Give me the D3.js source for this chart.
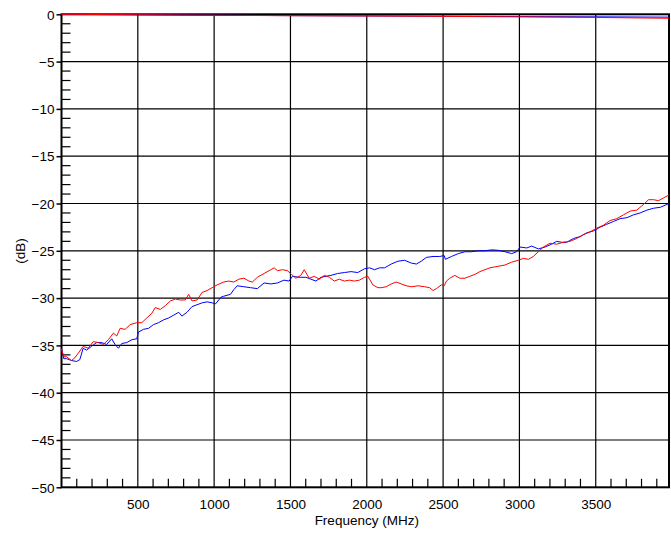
<!DOCTYPE html>
<html lang="en">
<head>
<meta charset="UTF-8">
<script src="https://d3js.org/d3.v7.min.js"></script>
<style>
  body { margin: 0; background: #fff; }
  text { font-family: "Liberation Sans", Arial, sans-serif; font-size: 13.5px; fill: #000; }
</style>
</head>
<body>
<div id="chart"></div>
<script>
// Data (frequency in MHz, level in dB)
const redFreq = [0, 15, 33, 66, 88, 120, 142, 175, 208, 241, 274, 307, 340, 362, 384, 417, 450, 493, 526, 559,
  592, 614, 647, 680, 713, 746, 778, 811, 833, 855, 888, 921, 954, 987, 1020, 1063, 1096, 1129, 1162, 1195,
  1228, 1250, 1283, 1327, 1371, 1393, 1415, 1448, 1480, 1507, 1535, 1568, 1590, 1623, 1656, 1689, 1722, 1755,
  1787, 1820, 1853, 1886, 1919, 1952, 1985, 2007, 2040, 2073, 2094, 2127, 2160, 2193, 2226, 2259, 2292, 2336,
  2379, 2412, 2434, 2456, 2489, 2507, 2522, 2544, 2577, 2610, 2643, 2675, 2708, 2741, 2774, 2807, 2840, 2873,
  2906, 2949, 2993, 3026, 3059, 3091, 3124, 3157, 3200, 3244, 3288, 3332, 3375, 3419, 3463, 3507, 3550, 3594,
  3638, 3682, 3726, 3769, 3813, 3846, 3879, 3912, 3945, 3980];
const redDb = [-35.4, -36.2, -36.2, -36.6, -36.3, -35.6, -35.1, -35.3, -34.6, -34.7, -34.9, -34.4, -33.7, -34.0,
  -33.2, -33.3, -32.8, -32.6, -32.6, -32.1, -31.6, -31.0, -31.2, -30.8, -30.3, -30.1, -30.2, -30.2, -29.6, -30.3,
  -30.2, -29.4, -29.2, -28.9, -28.6, -28.3, -28.2, -28.3, -28.0, -27.9, -28.2, -28.3, -27.8, -27.4, -27.0, -26.8,
  -27.1, -27.0, -27.1, -27.5, -27.9, -27.6, -27.0, -27.9, -27.7, -28.0, -27.6, -27.8, -28.2, -28.0, -28.2, -28.1,
  -28.2, -28.1, -27.8, -27.7, -28.6, -28.9, -28.9, -28.8, -28.5, -28.3, -28.5, -28.7, -28.8, -28.7, -28.8, -28.9,
  -29.2, -29.0, -28.6, -28.7, -28.2, -27.9, -27.6, -27.9, -27.9, -27.7, -27.5, -27.2, -27.0, -26.8, -26.7, -26.6,
  -26.5, -26.2, -26.0, -25.8, -25.9, -25.6, -25.1, -24.6, -24.2, -24.3, -24.1, -24.0, -23.7, -23.3, -23.0, -22.6,
  -22.3, -21.8, -21.6, -21.2, -20.8, -20.7, -20.1, -19.6, -19.6, -19.7, -19.4, -19.1];

const blueFreq = [0, 15, 33, 66, 99, 120, 142, 164, 197, 230, 263, 296, 329, 351, 373, 395, 428, 461, 493, 504,
  537, 570, 603, 636, 669, 702, 735, 768, 789, 822, 855, 888, 921, 954, 987, 1010, 1045, 1063, 1107, 1129, 1151,
  1195, 1239, 1283, 1327, 1371, 1415, 1458, 1491, 1513, 1557, 1601, 1634, 1667, 1700, 1733, 1765, 1809, 1853,
  1897, 1941, 1985, 2018, 2051, 2084, 2117, 2160, 2204, 2248, 2292, 2325, 2357, 2390, 2434, 2478, 2507, 2515,
  2555, 2599, 2643, 2686, 2730, 2774, 2818, 2862, 2906, 2949, 2982, 3004, 3048, 3081, 3124, 3168, 3211, 3244,
  3277, 3310, 3354, 3397, 3441, 3485, 3529, 3572, 3616, 3660, 3704, 3747, 3791, 3835, 3879, 3923, 3980];
const blueDb = [-35.3, -36.4, -36.4, -36.6, -36.7, -36.5, -35.3, -35.5, -35.1, -34.7, -34.7, -34.9, -34.3, -34.9,
  -35.3, -34.8, -34.7, -34.4, -34.3, -33.6, -33.3, -33.2, -32.8, -32.6, -32.3, -32.1, -31.8, -31.5, -31.9, -31.5,
  -30.9, -30.7, -30.5, -30.4, -30.5, -30.6, -29.9, -29.8, -29.6, -29.1, -28.7, -28.8, -28.9, -29.0, -28.4, -28.5,
  -28.4, -28.1, -28.2, -27.7, -27.8, -27.8, -28.0, -28.2, -27.8, -27.7, -27.6, -27.4, -27.3, -27.2, -27.3, -26.9,
  -26.8, -27.0, -26.8, -26.8, -26.4, -26.1, -26.0, -26.3, -26.4, -26.1, -25.7, -25.6, -25.6, -25.5, -25.9, -25.6,
  -25.3, -25.1, -25.1, -25.0, -25.0, -24.9, -24.95, -25.1, -25.3, -25.1, -24.6, -24.7, -24.5, -24.8, -24.6, -24.3,
  -24.0, -24.1, -24.1, -23.7, -23.5, -23.1, -22.9, -22.5, -22.2, -21.9, -21.6, -21.5, -21.2, -21.0, -20.7, -20.5,
  -20.4, -20.0];

// Traces near 0 dB
const topFreq = [0, 500, 1000, 1500, 2000, 2500, 3000, 3500, 3980];
const redTopDb = [0, -0.05, -0.1, -0.15, -0.18, -0.22, -0.27, -0.33, -0.42];
const blueTopDb = [0, -0.05, -0.1, -0.14, -0.17, -0.2, -0.24, -0.27, -0.3];

const xTicks = [500, 1000, 1500, 2000, 2500, 3000, 3500];
const yTicks = [0, -5, -10, -15, -20, -25, -30, -35, -40, -45, -50];

// Chart dimensions
const width = 671;
const height = 534;
const margin = { top: 14.3, right: 2, bottom: 46.7, left: 61.5 };
const innerW = width - margin.left - margin.right;
const innerH = height - margin.top - margin.bottom;

const svg = d3.select("#chart")
  .append("svg")
  .attr("width", width)
  .attr("height", height);

const g = svg.append("g")
  .attr("transform", `translate(${margin.left},${margin.top})`);

// Scales
const x = d3.scaleLinear().domain([0, 3980]).range([0, innerW]);
const y = d3.scaleLinear().domain([-50, 0]).range([innerH, 0]);

// Grid
g.append("g")
  .selectAll("line")
  .data(xTicks)
  .join("line")
  .attr("x1", d => x(d)).attr("x2", d => x(d))
  .attr("y1", 0).attr("y2", innerH)
  .attr("stroke", "#000").attr("stroke-width", 1.2);

g.append("g")
  .selectAll("line")
  .data(yTicks.slice(1, -1))
  .join("line")
  .attr("x1", 0).attr("x2", innerW)
  .attr("y1", d => y(d)).attr("y2", d => y(d))
  .attr("stroke", "#000").attr("stroke-width", 1.2);

// Minor ticks
g.append("g")
  .selectAll("line")
  .data(d3.range(-49, 0, 1).filter(d => d % 5 !== 0))
  .join("line")
  .attr("x1", 0).attr("x2", 9)
  .attr("y1", d => y(d)).attr("y2", d => y(d))
  .attr("stroke", "#000").attr("stroke-width", 1.2);

g.append("g")
  .selectAll("line")
  .data(d3.range(100, 3980, 100).filter(d => d % 500 !== 0))
  .join("line")
  .attr("x1", d => x(d)).attr("x2", d => x(d))
  .attr("y1", innerH).attr("y2", innerH - 8.5)
  .attr("stroke", "#000").attr("stroke-width", 1.2);

// Axes
const yAxis = g.append("g")
  .call(d3.axisLeft(y).tickValues(yTicks).tickSize(5).tickPadding(2).tickFormat(d3.format("d")));
yAxis.select(".domain").remove();
yAxis.selectAll("line").attr("stroke-width", 1.5);
yAxis.selectAll("text").style("font-size", "13.5px").attr("dy", "0.35em");

const xAxis = g.append("g")
  .attr("transform", `translate(0,${innerH})`)
  .call(d3.axisBottom(x).tickValues(xTicks).tickSize(0).tickPadding(12).tickFormat(d3.format("d")));
xAxis.select(".domain").remove();
xAxis.selectAll("text").style("font-size", "13.5px");

// Frame
g.append("rect")
  .attr("width", innerW).attr("height", innerH)
  .attr("fill", "none").attr("stroke", "#000").attr("stroke-width", 2);

// Lines
const line = d3.line().x(d => x(d[0])).y(d => y(d[1]));

const series = [
  { f: blueFreq, v: blueDb, c: "#0000ff" },
  { f: redFreq, v: redDb, c: "#ff0000" },
  { f: topFreq, v: blueTopDb, c: "#0000ff" },
  { f: topFreq, v: redTopDb, c: "#ff0000" }
];

series.forEach(s => {
  g.append("path")
    .datum(s.f.map((f, i) => [f, s.v[i]]))
    .attr("d", line)
    .attr("fill", "none")
    .attr("stroke", s.c)
    .attr("stroke-width", 1)
    .attr("stroke-linejoin", "round");
});

// Labels
svg.append("text")
  .attr("x", margin.left + x(2000))
  .attr("y", 525)
  .attr("text-anchor", "middle")
  .text("Frequency (MHz)");

svg.append("text")
  .attr("transform", `translate(25,251) rotate(-90)`)
  .attr("text-anchor", "middle")
  .text("(dB)");
</script>
</body>
</html>
